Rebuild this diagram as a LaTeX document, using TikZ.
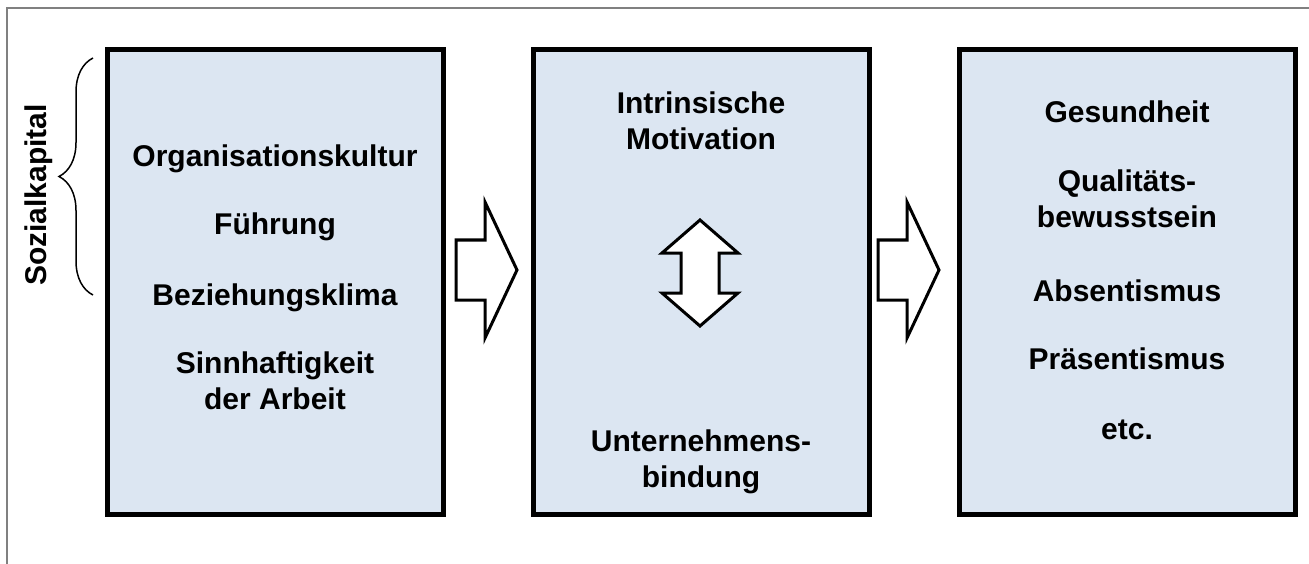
\documentclass[tikz,border=0pt]{standalone}
\usepackage{fontspec}
\setmainfont{Liberation Sans}
\usetikzlibrary{positioning, decorations.pathreplacing}
\definecolor{boxfill}{RGB}{220,230,242}
\definecolor{framegray}{RGB}{128,128,128}

\begin{document}
\begin{tikzpicture}[
      x=1pt, y=-1pt,
      blk/.style={draw, line width=5pt, fill=boxfill, minimum width=336pt, minimum height=465pt, inner sep=0pt},
      lbl/.style={font=\bfseries\fontsize{30}{36}\selectfont, align=center, anchor=base, inner sep=0pt},
      fat/.style={draw, line width=3pt, fill=white, line join=miter}
    ]
    \useasboundingbox (0,0) rectangle (1309,564);
    \draw[framegray, line width=2pt] (7,564) -- (7,8) -- (1309,8);
    \node[blk] (b1) at (275,282) {};
    \node[blk] (b2) [right=85pt of b1] {};
    \node[blk] (b3) [right=85pt of b2] {};
    \node[lbl] (org) at (275,167) {Organisationskultur};
    \node[lbl] (fue) at (275,235) {Führung};
    \node[lbl] (bez) at (275,305) {Beziehungsklima};
    \node[lbl] (sinn) at (275,409) {Sinnhaftigkeit\\der Arbeit};
    \node[lbl] (intr) at (701,150) {Intrinsische\\Motivation};
    \node[lbl] (unt) at (701,487) {Unternehmens-\\bindung};
    \node[lbl] (ges) at (1127,123) {Gesundheit};
    \node[lbl] (qual) at (1127,228) {Qualitäts-\\bewusstsein};
    \node[lbl] (abs) at (1127,301) {Absentismus};
    \node[lbl] (praes) at (1127,369) {Präsentismus};
    \node[lbl] (etc) at (1127,439) {etc.};
    \node[lbl, rotate=90, anchor=center] (sk) at (39,195) {Sozialkapital};
    \coordinate (btop) at (93,58);
    \coordinate (bbot) at (93,295);
    \draw[decorate, decoration={brace, amplitude=34pt}, line width=1.5pt] (bbot) -- (btop);
    \draw[fat, shift={(456,270)}] (0,-30) -- (29,-30) -- (29,-68) -- (61,0) -- (29,68) -- (29,30) -- (0,30) -- cycle;
    \draw[fat, shift={(878,270)}] (0,-30) -- (29,-30) -- (29,-68) -- (61,0) -- (29,68) -- (29,30) -- (0,30) -- cycle;
    \draw[fat, shift={(700,273)}] (0,-53) -- (38,-20) -- (19,-20) -- (19,20) -- (38,20) -- (0,53) -- (-38,20) -- (-19,20) -- (-19,-20) -- (-38,-20) -- cycle;
  \end{tikzpicture}
\end{document}
